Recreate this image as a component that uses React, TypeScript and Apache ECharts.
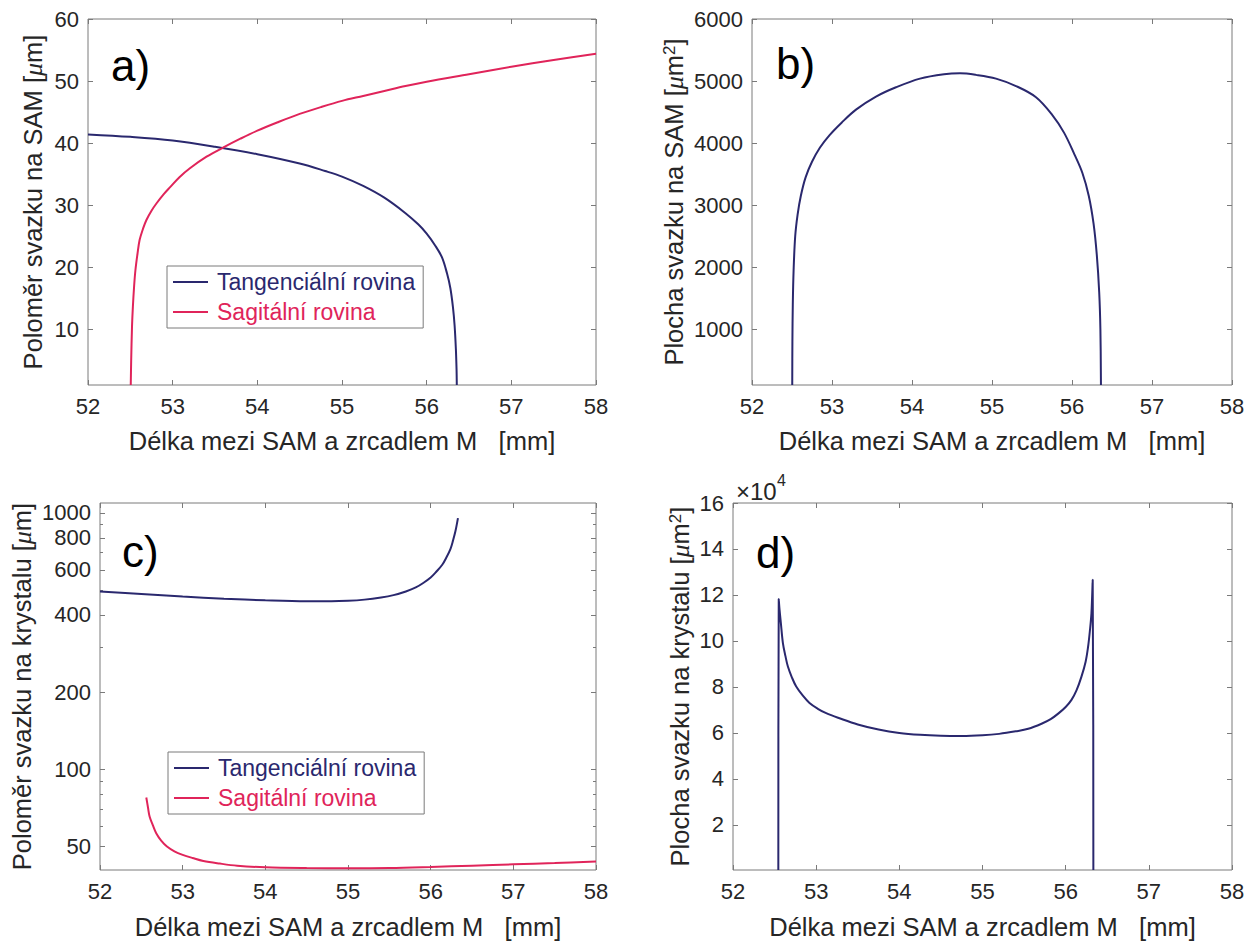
import React, { useEffect, useRef } from "react";
import * as echarts from "echarts";

// ---------- data ----------
const xTicks = [52, 53, 54, 55, 56, 57, 58];

// a) beam radius on SAM [um]
const aTanX = [52.0, 52.5, 53.0, 53.5, 54.0, 54.5, 54.8, 55.0, 55.25, 55.5, 55.75, 55.9, 56.0, 56.1, 56.18, 56.24, 56.28, 56.31, 56.33, 56.345, 56.353, 56.356];
const aTanY = [41.4, 41.0, 40.4, 39.4, 38.2, 36.7, 35.5, 34.6, 33.1, 31.2, 28.7, 26.9, 25.4, 23.5, 21.6, 19.0, 16.6, 13.6, 10.6, 6.8, 3.5, 1.0];
const aSagX = [52.505, 52.51, 52.52, 52.53, 52.545, 52.56, 52.585, 52.61, 52.65, 52.69, 52.75, 52.81, 52.89, 52.97, 53.08, 53.2, 53.4, 53.6, 53.8, 54.0, 54.25, 54.5, 54.75, 55.0, 55.25, 55.5, 55.75, 56.0, 56.5, 57.0, 57.5, 58.0];
const aSagY = [1.0, 5.0, 10.5, 13.6, 17.0, 19.5, 22.2, 24.4, 26.2, 27.6, 29.1, 30.3, 31.7, 32.9, 34.5, 35.9, 37.8, 39.3, 40.7, 42.0, 43.4, 44.7, 45.8, 46.8, 47.6, 48.4, 49.2, 49.9, 51.1, 52.3, 53.4, 54.4];
const aYTicks = [10, 20, 30, 40, 50, 60];

// b) beam area on SAM [um^2]
const bX = [52.503, 52.505, 52.51, 52.52, 52.54, 52.57, 52.61, 52.67, 52.75, 52.85, 52.97, 53.12, 53.3, 53.55, 53.8, 54.1, 54.4, 54.6, 54.8, 55.05, 55.3, 55.55, 55.75, 55.9, 56.03, 56.13, 56.21, 56.27, 56.31, 56.34, 56.355, 56.362];
const bY = [105, 800, 1400, 1950, 2500, 2850, 3150, 3450, 3700, 3930, 4130, 4330, 4540, 4750, 4900, 5040, 5110, 5125, 5100, 5040, 4920, 4740, 4460, 4170, 3820, 3520, 3150, 2700, 2200, 1600, 1000, 105];
const bYTicks = [1000, 2000, 3000, 4000, 5000, 6000];

// c) beam radius on crystal [um] (log axis)
const cTanX = [52.0, 52.5, 53.0, 53.5, 54.0, 54.5, 54.8, 55.0, 55.2, 55.4, 55.55, 55.7, 55.82, 55.91, 56.0, 56.07, 56.14, 56.19, 56.24, 56.27, 56.3, 56.33];
const cTanY = [494, 483, 472, 463, 456, 452, 452, 454, 459, 468, 478, 494, 512, 533, 560, 591, 628, 670, 725, 780, 850, 955];
const cSagX = [52.56, 52.58, 52.6, 52.64, 52.68, 52.74, 52.81, 52.9, 53.0, 53.12, 53.25, 53.45, 53.66, 54.0, 54.5, 55.0, 55.5, 56.0, 56.5, 57.0, 57.5, 58.0];
const cSagY = [77.5, 71.0, 65.3, 60.3, 56.2, 52.6, 49.9, 47.8, 46.3, 45.0, 43.8, 42.8, 42.0, 41.4, 41.1, 41.0, 41.1, 41.5, 42.0, 42.5, 43.0, 43.6];
const cYTicks = [50, 100, 200, 400, 600, 800, 1000];
const cYMinor = [60, 70, 80, 90, 300, 500, 700, 900];

// d) beam area on crystal [um^2]
const dX = [52.545, 52.55, 52.56, 52.575, 52.6, 52.63, 52.66, 52.71, 52.76, 52.84, 52.92, 53.02, 53.12, 53.28, 53.5, 53.75, 54.0, 54.25, 54.5, 54.75, 55.0, 55.2, 55.4, 55.55, 55.71, 55.82, 55.91, 56.0, 56.07, 56.13, 56.19, 56.24, 56.27, 56.29, 56.31, 56.325, 56.333];
const dY = [400, 118200, 113500, 108000, 99100, 93500, 88900, 84000, 80200, 76200, 73000, 70500, 68600, 66400, 63700, 61500, 60000, 59200, 58800, 58700, 59000, 59600, 60700, 61800, 64000, 66000, 68400, 71300, 74400, 78500, 84500, 91000, 97600, 104000, 112100, 126600, 400];
const dYTicks = [20000, 40000, 60000, 80000, 100000, 120000, 140000, 160000];

const TAN = "Tangenciální rovina";
const SAG = "Sagitální rovina";
const X_TITLE = "Délka mezi SAM a zrcadlem M   [mm]";

// ---------- styles ----------
const NAVY = "#2a286e";
const RED = "#e0245a";
const AX = "#7a7a7a";
const TXT = "#262626";
const FONT = "'Liberation Sans', Arial, Helvetica, sans-serif";
const TITLE_SIZE = 25.5;

const pairs = (xs: number[], ys: number[], f: (v: number) => number = (v) => v) =>
  xs.map((x, i) => [x, f(ys[i])]);

function buildOption() {
  const grids = [
    { left: 88, top: 19, width: 508, height: 366 },
    { left: 752, top: 19, width: 480, height: 366 },
    { left: 100, top: 503, width: 496, height: 367 },
    { left: 733, top: 503, width: 499, height: 367 },
  ].map((g) => ({
    ...g,
    show: true,
    borderColor: AX,
    borderWidth: 1,
    backgroundColor: "transparent",
    containLabel: false,
    outerBoundsMode: "none",
  }));

  const nameRich = {
    mu: { fontStyle: "italic", fontFamily: "'Liberation Serif', serif", fontSize: 26, color: TXT },
    sup: { fontSize: 17, verticalAlign: "top", lineHeight: 6, color: TXT, fontFamily: FONT },
  };

  const panels = [
    { yMin: 1, yMax: 60, ticks: aYTicks, fmt: (v: number) => String(Math.round(v)), name: "Poloměr svazku na SAM [{mu|μ}m]", gap: 42 },
    { yMin: 105, yMax: 6000, ticks: bYTicks, fmt: (v: number) => String(Math.round(v)), name: "Plocha svazku na SAM [{mu|μ}m{sup|2}]", gap: 65 },
    { yMin: Math.log10(40.4), yMax: Math.log10(1094), ticks: cYTicks.map(Math.log10), fmt: (v: number) => String(Math.round(Math.pow(10, v))), name: "Poloměr svazku na krystalu [{mu|μ}m]", gap: 65 },
    { yMin: 400, yMax: 160000, ticks: dYTicks, fmt: (v: number) => String(Math.round(v / 10000)), name: "Plocha svazku na krystalu [{mu|μ}m{sup|2}]", gap: 40 },
  ];

  const xAxes: any[] = [];
  const yAxes: any[] = [];
  panels.forEach((p, gi) => {
    xAxes.push({
      type: "value", gridIndex: gi, min: 52, max: 58, position: "bottom",
      axisLine: { show: false, onZero: false },
      axisTick: { show: true, inside: true, length: 5, lineStyle: { color: AX }, customValues: xTicks },
      axisLabel: { show: true, customValues: xTicks, margin: 10, color: TXT, fontSize: 22, fontFamily: FONT },
      splitLine: { show: false },
      name: X_TITLE, nameLocation: "middle", nameGap: gi < 2 ? 43 : 44,
      nameTextStyle: { fontSize: TITLE_SIZE, fontFamily: FONT, color: TXT },
    });
    xAxes.push({
      type: "value", gridIndex: gi, min: 52, max: 58, position: "top",
      axisLine: { show: false, onZero: false },
      axisTick: { show: true, inside: true, length: 5, lineStyle: { color: AX }, customValues: xTicks },
      axisLabel: { show: false },
      splitLine: { show: false },
    });
    yAxes.push({
      type: "value", gridIndex: gi, min: p.yMin, max: p.yMax, position: "left",
      axisLine: { show: false, onZero: false },
      axisTick: { show: true, inside: true, length: 5, lineStyle: { color: AX }, customValues: p.ticks },
      axisLabel: { show: true, customValues: p.ticks, formatter: p.fmt, margin: 9, color: TXT, fontSize: 22, fontFamily: FONT },
      splitLine: { show: false },
      name: p.name, nameLocation: "middle", nameGap: p.gap, nameRotate: 90,
      nameTextStyle: { fontSize: TITLE_SIZE, fontFamily: FONT, color: TXT, rich: nameRich },
    });
    yAxes.push({
      type: "value", gridIndex: gi, min: p.yMin, max: p.yMax, position: "right",
      axisLine: { show: false, onZero: false },
      axisTick: { show: true, inside: true, length: 5, lineStyle: { color: AX }, customValues: p.ticks },
      axisLabel: { show: false },
      splitLine: { show: false },
    });
  });
  // minor log ticks for panel c
  const minorVals = cYMinor.map(Math.log10);
  ["left", "right"].forEach((pos) => {
    yAxes.push({
      type: "value", gridIndex: 2, min: panels[2].yMin, max: panels[2].yMax, position: pos,
      axisLine: { show: false, onZero: false },
      axisTick: { show: true, inside: true, length: 3, lineStyle: { color: AX }, customValues: minorVals },
      axisLabel: { show: false },
      splitLine: { show: false },
    });
  });

  const line = (name: string, xi: number, data: number[][], color: string) => ({
    type: "line", name, xAxisIndex: xi, yAxisIndex: xi, data,
    symbol: "none", showSymbol: false, smooth: 0.35, silent: true,
    lineStyle: { color, width: 2 }, itemStyle: { color }, z: 3,
  });

  const series = [
    line(TAN, 0, pairs(aTanX, aTanY), NAVY),
    line(SAG, 0, pairs(aSagX, aSagY), RED),
    line("Plocha SAM", 2, pairs(bX, bY), NAVY),
    line(TAN, 4, pairs(cTanX, cTanY, Math.log10), NAVY),
    line(SAG, 4, pairs(cSagX, cSagY, Math.log10), RED),
    line("Plocha krystal", 6, pairs(dX, dY), NAVY),
  ];

  const legendBase = (left: number, top: number) => ({
    left, top, orient: "vertical",
    data: [
      { name: TAN, icon: "rect", itemStyle: { color: NAVY }, textStyle: { color: NAVY } },
      { name: SAG, icon: "rect", itemStyle: { color: RED }, textStyle: { color: RED } },
    ],
    itemWidth: 35, itemHeight: 2, itemGap: 4,
    padding: [3, 8, 3, 6],
    borderColor: AX, borderWidth: 1, borderRadius: 0,
    backgroundColor: "#fff",
    selectedMode: false,
    textStyle: { fontSize: 23, fontFamily: FONT, lineHeight: 26, padding: [0, 0, 0, 4] },
  });

  const letter = (t: string, x: number, y: number) => ({
    type: "text", x, y, silent: true, z: 10,
    style: { text: t, fontSize: 44, fontFamily: FONT, fill: "#000", verticalAlign: "middle", align: "left" },
  });

  return {
    animation: false,
    backgroundColor: "#fff",
    grid: grids,
    xAxis: xAxes,
    yAxis: yAxes,
    series,
    legend: [legendBase(167, 266), legendBase(168, 752)],
    graphic: [
      letter("a)", 111, 65),
      letter("b)", 776, 63),
      letter("c)", 122, 551),
      letter("d)", 756, 552),
      { type: "text", x: 736, y: 491, silent: true, style: { text: "×10", fontSize: 24, fontFamily: FONT, fill: TXT, verticalAlign: "middle", align: "left" } },
      { type: "text", x: 777, y: 480, silent: true, style: { text: "4", fontSize: 16, fontFamily: FONT, fill: TXT, verticalAlign: "middle", align: "left" } },
    ],
  };
}

export default function App() {
  const ref = useRef<HTMLDivElement>(null);
  useEffect(() => {
    if (!ref.current) return;
    const chart = echarts.init(ref.current, null, { renderer: "svg" });
    chart.setOption(buildOption() as any);
    return () => chart.dispose();
  }, []);
  return (
    <div
      ref={ref}
      style={{ position: "fixed", left: 0, top: 0, width: 1259, height: 941, background: "#fff" }}
    />
  );
}
